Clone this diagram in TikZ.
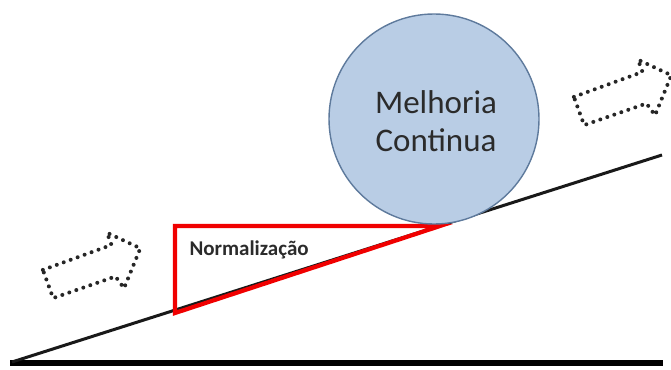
\documentclass[tikz,border=0pt]{standalone}
\usepackage{fontspec}
\setmainfont{Carlito}
\usetikzlibrary{shapes.geometric}
\definecolor{ballfill}{HTML}{B9CDE5}
\definecolor{balldraw}{HTML}{5E7A9C}
\definecolor{txtgray}{HTML}{2B2B2B}
\definecolor{normred}{HTML}{F00000}
\tikzset{
  dotarrow/.style={draw=black!85, line width=4pt, line cap=round, line join=round, dash pattern=on 0pt off 7.4pt},
  ground/.style={draw=black, line width=6pt},
  slope/.style={draw=black!90, line width=3pt},
  redtri/.style={draw=normred, line width=4.2pt, line join=miter},
  ball/.style={circle, draw=balldraw, line width=1.4pt, fill=ballfill, minimum size=210pt, inner sep=0pt},
}
\begin{document}
\begin{tikzpicture}[x=1pt,y=-1pt]
\useasboundingbox (0,0) rectangle (671,369);
\begin{scope}
\clip (0,0) rectangle (671,369);
% ground and slope
\coordinate (g1) at (10,363);
\coordinate (g2) at (663,363);
\coordinate (s1) at (12,362);
\coordinate (s2) at (662,155);
\draw[ground] (g1) -- (g2);
\draw[slope] (s1) -- (s2);
% red triangle
\coordinate (ta) at (175,226);
\coordinate (tb) at (440,226);
\coordinate (tc) at (175,313);
\draw[redtri] (ta) -- (tb) -- (tc) -- cycle;
\node[anchor=base west, font=\bfseries, text=txtgray] (norm) at (186,255) {\fontsize{21}{24}\selectfont Normaliza\c{c}\~ao};
% ball
\node[ball] (ball) at (434,119) {};
\node[text=txtgray, align=center, font=\fontsize{33}{38}\selectfont] (lbl) at (436,121) {Melhoria\\Continua};
% dotted arrows
\begin{scope}[shift={(48,284)}, rotate=20]
\draw[dotarrow] (0,-15) -- (73,-15) -- (73,-28) -- (99,-2) -- (70,30) -- (66,16) -- (0,15) -- cycle;
\end{scope}
\begin{scope}[shift={(579,111)}, rotate=20]
\draw[dotarrow] (0,-15) -- (73,-15) -- (73,-28) -- (99,-2) -- (70,30) -- (66,16) -- (0,15) -- cycle;
\end{scope}
\end{scope}
\end{tikzpicture}
\end{document}
